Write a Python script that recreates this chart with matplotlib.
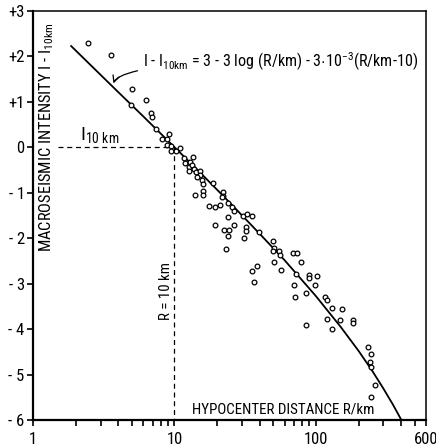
import matplotlib
matplotlib.use('Agg')
import matplotlib.pyplot as plt
from matplotlib import font_manager
from matplotlib.ticker import FixedLocator, NullFormatter

# try to find a narrow face close to the original lettering
fonts = font_manager.fontManager.ttflist
names = {f.name for f in fonts}
font, stretch, narrow = 'DejaVu Sans', 'normal', False
for cand in ['Liberation Sans Narrow', 'Roboto Condensed', 'Noto Sans Condensed',
             'Open Sans Condensed', 'DejaVu Sans Condensed', 'Arial Narrow']:
    if cand in names:
        font, narrow = cand, True
        break
if not narrow:
    for f in fonts:
        if str(f.stretch) in ('condensed', 'semi-condensed') and f.name in (
                'DejaVu Sans', 'Noto Sans', 'Open Sans', 'Roboto'):
            font, stretch, narrow = f.name, f.stretch, True
            break

plt.rcParams['font.family'] = [font, 'DejaVu Sans']
plt.rcParams['font.stretch'] = stretch
plt.rcParams['mathtext.fontset'] = 'custom'
plt.rcParams['mathtext.rm'] = font
plt.rcParams['mathtext.it'] = font
k = 1.0 if narrow else 0.82

# observed points: hypocenter distance (km) and intensity difference
R_obs = [2.44, 3.56, 4.98, 4.93, 6.32, 6.79, 6.99, 7.40, 8.12, 8.89, 9.15, 8.81,
         9.52, 9.45, 10.25, 10.94, 11.67, 11.87, 12.87, 12.66, 13.58, 13.23, 13.80,
         12.72, 14.19, 15.14, 15.14, 14.35, 15.57, 15.83, 15.83, 15.98, 13.96, 18.8,
         21.91, 22.13, 21.56, 24.0, 25.37, 26.42, 17.62, 19.33, 21.08, 24.0, 19.33,
         22.38, 24.36, 26.42, 23.77, 23.12, 30.34, 32.8, 35.29, 32.0, 32.2, 30.83,
         39.36, 49.9, 50.5, 49.7, 55.2, 55.4, 69.1, 74.0, 78.0, 50.5, 56.6, 35.1,
         38.3, 36.5, 72.2, 88.8, 89.2, 102.5, 70.3, 98.4, 85.0, 70.7, 115.8, 120.2,
         129.1, 151.9, 119.0, 147.8, 85.0, 130.2, 181.7, 181.7, 232.0, 244.7, 239.6,
         244.7, 261.2, 243.5]
dI_obs = [2.29, 2.02, 1.28, 0.92, 1.04, 0.76, 0.66, 0.40, 0.18, 0.19, 0.29, 0.04,
          0.02, -0.09, -0.09, -0.01, -0.23, -0.35, -0.32, -0.43, -0.21, -0.40, -0.47,
          -0.52, -0.55, -0.52, -0.62, -0.66, -0.73, -0.80, -0.96, -1.04, -1.06, -0.79,
          -0.99, -1.07, -1.10, -1.23, -1.31, -1.41, -1.30, -1.32, -1.28, -1.54, -1.70,
          -1.81, -1.82, -1.70, -1.96, -2.24, -1.52, -1.47, -1.52, -1.75, -1.84, -1.99,
          -1.87, -2.05, -2.22, -2.27, -2.28, -2.37, -2.32, -2.32, -2.53, -2.52, -2.70,
          -2.72, -2.60, -2.96, -2.78, -2.80, -2.88, -2.83, -3.02, -3.03, -3.21, -3.30,
          -3.28, -3.36, -3.53, -3.55, -3.78, -3.80, -3.91, -4.00, -3.79, -3.87, -4.38,
          -4.53, -4.71, -4.83, -5.21, -5.49]

# fitted curve
R_fit = [1.86, 2.5, 4, 6, 10, 15, 25, 40, 60, 100, 150, 200, 250, 300, 350, 402]
dI_fit = [2.22, 1.83, 1.21, 0.68, 0.0, -0.54, -1.24, -1.90, -2.48, -3.27, -3.95,
          -4.47, -4.91, -5.30, -5.65, -5.99]

x_major = [1, 10, 100, 600]
x_labels = ['1', '10', '100', '600']
x_minor = [2, 3, 4, 5, 6, 7, 8, 9, 20, 30, 40, 50, 60, 70, 80, 90, 200, 300, 400, 500]
y_ticks = [3, 2, 1, 0, -1, -2, -3, -4, -5, -6]
y_labels = ['+3', '+2', '+1', '0', '- 1', '- 2', '- 3', '- 4', '- 5', '- 6']

fig = plt.figure(figsize=(4.36, 4.47), dpi=100)
ax = fig.add_axes([0.0757, 0.0593, 0.9014, 0.9172])

ax.plot(R_fit, dI_fit, color='black', lw=1.3, zorder=3)
ax.plot(R_obs, dI_obs, 'o', mfc='white', mec='black', ms=3.4, mew=0.9, zorder=4)

ax.plot([1.5, 10], [0, 0], color='black', lw=0.9, ls=(0, (4, 3)), zorder=2)
ax.plot([10, 10], [0, -6], color='black', lw=0.9, ls=(0, (4, 3)), zorder=2)

ax.set_xscale('log')
ax.set_xlim(1, 600)
ax.set_ylim(-6, 3)
ax.xaxis.set_major_locator(FixedLocator(x_major))
ax.xaxis.set_minor_locator(FixedLocator(x_minor))
ax.xaxis.set_minor_formatter(NullFormatter())
ax.set_xticklabels(x_labels)
ax.set_yticks(y_ticks)
ax.set_yticklabels(y_labels)
ax.tick_params(axis='x', which='both', direction='out', length=4, width=1.2,
               labelsize=12 * k, pad=4)
ax.tick_params(axis='y', which='major', direction='out', length=4, width=1.2,
               labelsize=12 * k, pad=2)
for side in ['left', 'bottom']:
    ax.spines[side].set_linewidth(1.6)
for side in ['top', 'right']:
    ax.spines[side].set_linewidth(1.1)

ax.text(1.256, 0.22, 'MACROSEISMIC INTENSITY I - I$_{10km}$', rotation=90,
        ha='center', va='center', fontsize=11.8 * k)
ax.text(13.3, -5.75, 'HYPOCENTER DISTANCE R/km', ha='left', va='center',
        fontsize=10.8 * k)
ax.text(8.72, -3.16, 'R = 10 km', rotation=90, ha='center', va='center',
        fontsize=10.7 * k)
ax.text(2.15, 0.27, 'I$_{10\\ km}$', ha='left', va='center', fontsize=14 * k)
ax.annotate('I - I$_{10km}$ = 3 - 3 log (R/km) - 3$\\cdot$10$^{-3}$(R/km-10)',
            xy=(3.7, 1.40), xytext=(5.99, 1.88), ha='left', va='center',
            fontsize=11.6 * k,
            arrowprops=dict(arrowstyle='->', color='black', lw=0.9,
                            connectionstyle='angle3,angleA=0,angleB=70',
                            shrinkA=2, shrinkB=0))

fig.savefig('out.png', dpi=100)
